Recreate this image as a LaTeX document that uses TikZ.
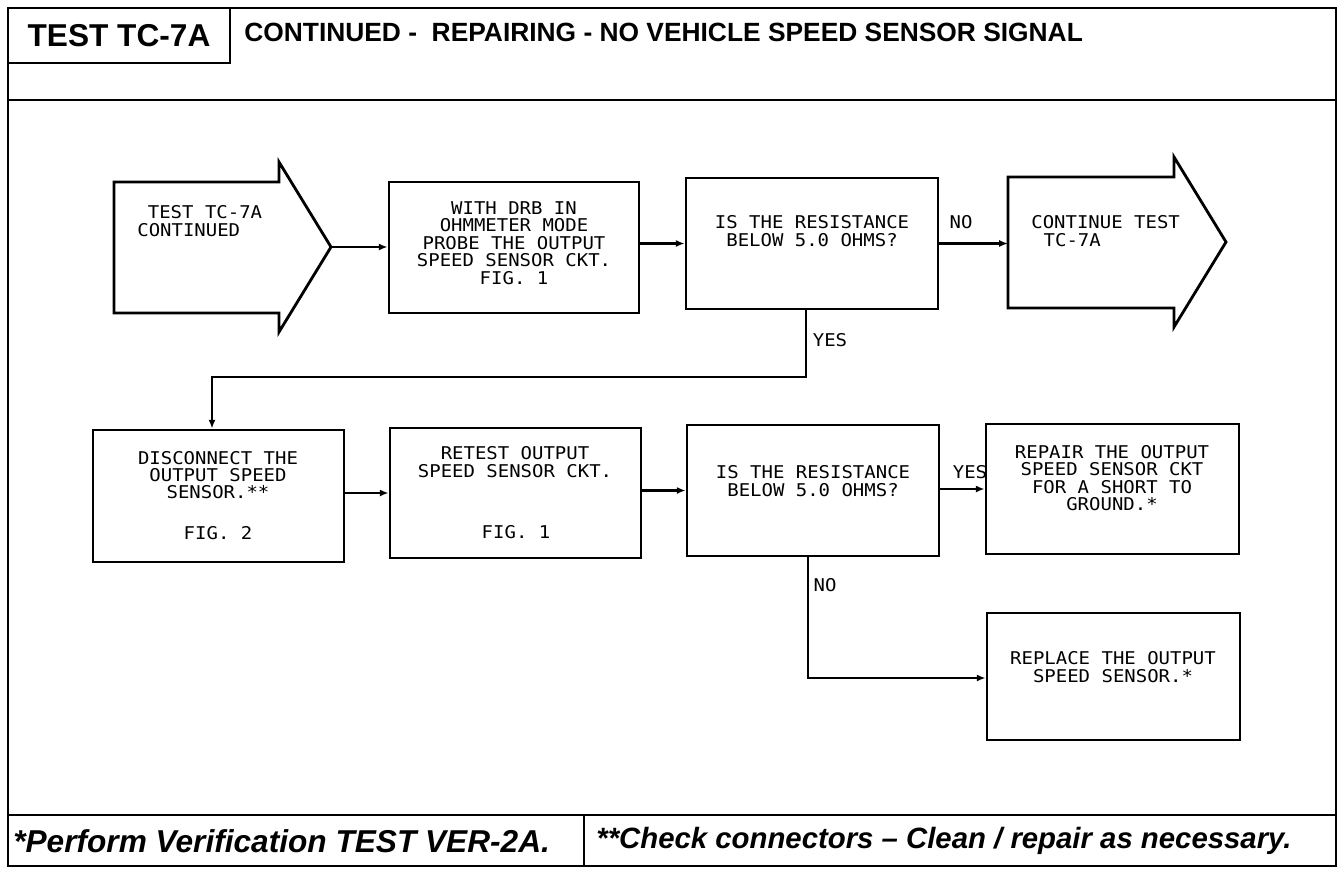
\documentclass[tikz,border=0pt]{standalone}
\usepackage{fontspec}
\setmainfont{Liberation Sans}
\newfontfamily\plotfont{DejaVu Sans Mono}[FakeStretch=1.08]
\usetikzlibrary{arrows.meta,fit}
\begin{document}
\begin{tikzpicture}[x=0.02cm,y=-0.02cm,
  frame/.style={line width=1.6pt},
  box/.style={draw,line width=1.6pt,inner sep=0pt},
  conn/.style={line width=1.2pt,-{Latex[length=5pt,width=4pt]}},
  btxt/.style={font=\plotfont\fontsize{10}{9.9}\selectfont,align=center,inner sep=0pt},
  lbl/.style={font=\plotfont\fontsize{10}{9.9}\selectfont,inner sep=0pt}]

\useasboundingbox (0,0) rectangle (1344,872);
\fill[white] (0,0) rectangle (1344,872);

% frame and header / footer
\draw[frame] (8,8) rectangle (1336,866);
\draw[frame] (8,100) -- (1336,100);
\draw[frame] (8,815) -- (1336,815);
\draw[frame] (584,815) -- (584,866);
\draw[line width=1.2pt] (230,8) -- (230,63) -- (8,63);

\node[font=\bfseries\fontsize{18}{18}\selectfont,inner sep=0pt] (title) at (119,36) {TEST TC-7A};
\node[font=\bfseries\fontsize{15}{15}\selectfont,inner sep=0pt,anchor=west] (head) at (244,32) {CONTINUED -\ \ REPAIRING - NO VEHICLE SPEED SENSOR SIGNAL};

\node[font=\bfseries\itshape\fontsize{18}{18}\selectfont,inner sep=0pt,anchor=west] (foot1) at (13,841) {*Perform Verification TEST VER-2A.};
\node[font=\bfseries\itshape\fontsize{16.7}{16.7}\selectfont,inner sep=0pt,anchor=west] (foot2) at (596,841) {**Check connectors – Clean / repair as necessary.};

% arrow shapes
\draw[box] (114,182) -- (279,182) -- (279,162) -- (331,247) -- (279,332) -- (279,313) -- (114,313) -- cycle;
\coordinate (a1tip) at (331,247);
\node[btxt,align=left,anchor=west] (a1t) at (137,221) {\hspace*{0.6em}TEST TC-7A\\CONTINUED};

\draw[box] (1008,177) -- (1174,177) -- (1174,157) -- (1226,242) -- (1174,327) -- (1174,308) -- (1008,308) -- cycle;
\coordinate (a4w) at (1008,243);
\node[btxt,align=left,anchor=west] (a4t) at (1031,231) {CONTINUE TEST\\\hspace*{0.7em}TC-7A};

% boxes
\node[box,fit={(389,182) (639,313)}] (b2) {};
\node[box,fit={(686,178) (938,309)}] (b3) {};
\node[box,fit={(93,430) (344,562)}] (b5) {};
\node[box,fit={(390,428) (641,558)}] (b6) {};
\node[box,fit={(687,425) (939,556)}] (b7) {};
\node[box,fit={(986,424) (1239,554)}] (b8) {};
\node[box,fit={(987,613) (1240,740)}] (b9) {};

% box texts
\node[btxt] (b2t) at (514,243) {WITH DRB IN\\OHMMETER MODE\\PROBE THE OUTPUT\\SPEED SENSOR CKT.\\FIG. 1};
\node[btxt] (b3t) at (812,231) {IS THE RESISTANCE\\BELOW 5.0 OHMS?};
\node[btxt] (b5t) at (218,475) {DISCONNECT THE\\OUTPUT SPEED\\SENSOR.**};
\node[btxt] (b5f) at (218,533) {FIG. 2};
\node[btxt] (b6t) at (515,462) {RETEST OUTPUT\\SPEED SENSOR CKT.};
\node[btxt] (b6f) at (516,532) {FIG. 1};
\node[btxt] (b7t) at (813,481) {IS THE RESISTANCE\\BELOW 5.0 OHMS?};
\node[btxt] (b8t) at (1112,478) {REPAIR THE OUTPUT\\SPEED SENSOR CKT\\FOR A SHORT TO\\GROUND.*};
\node[btxt] (b9t) at (1113,667) {REPLACE THE OUTPUT\\SPEED SENSOR.*};

% labels
\node[lbl] (no1) at (961,222) {NO};
\node[lbl] (yes1) at (830,340) {YES};
\node[lbl] (yes2) at (970,472) {YES};
\node[lbl] (no2) at (825,585) {NO};

% connectors
\draw[conn] (a1tip) -- (b2.west |- a1tip);
\draw[conn] (b2.east |- b3.west) -- (b3.west);
\draw[conn] (b3.east) -- (b3.east -| a4w);
\coordinate (j1) at (806,377);
\coordinate (j2) at (212,377);
\draw[conn] (b3.south -| j1) -- (j1) -- (j2) -- (b5.north -| j2);
\draw[conn] (b5.east |- b6.west) -- (b6.west);
\draw[conn] (b6.east |- b7.west) -- (b7.west);
\draw[conn] (b7.east |- b8.west) -- (b8.west);
\coordinate (j3) at (808,678);
\draw[conn] (b7.south -| j3) -- (j3) -- (j3 -| b9.west);
\end{tikzpicture}
\end{document}
